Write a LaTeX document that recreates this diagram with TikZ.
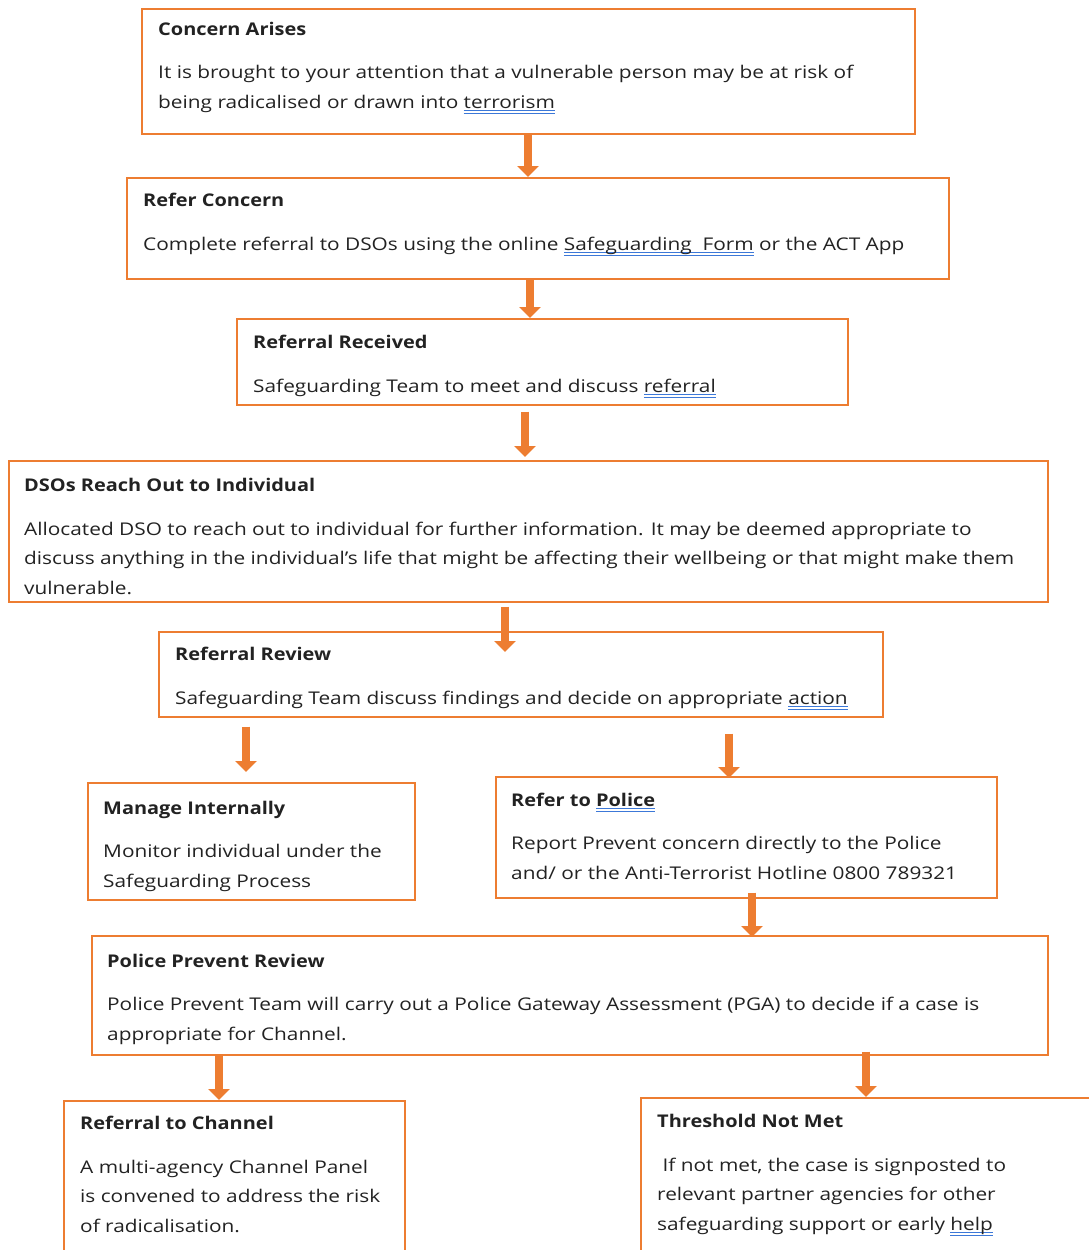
\documentclass[tikz,border=0pt]{standalone}
\usepackage{fontspec}
\setmainfont{Open Sans}[FakeStretch=1.19]
\newfontfamily\titlefont{Open Sans}[FakeStretch=1.14]
\usetikzlibrary{arrows.meta, positioning}
\definecolor{boxorange}{HTML}{ED7D31}
\definecolor{linkblue}{HTML}{3C78D8}
\definecolor{inktext}{HTML}{222222}
% double blue underline, as in the source document
\newsavebox{\linkbox}
\newcommand{\linkul}[1]{\sbox{\linkbox}{#1}%
  \rlap{\textcolor{linkblue}{\rule[-3pt]{\wd\linkbox}{1pt}}}%
  \rlap{\textcolor{linkblue}{\rule[-5.5pt]{\wd\linkbox}{1pt}}}%
  \usebox{\linkbox}}
\newcommand{\steptitle}[1]{{\titlefont\bfseries #1}}

\begin{document}
\begin{tikzpicture}[
  x=1pt, y=-1pt,
  box/.style={draw=boxorange, line width=1.6pt, anchor=north west, inner sep=0pt},
  txt/.style={anchor=base west, inner sep=0pt, align=left, text=inktext,
    font=\fontsize{17.5}{29.5}\selectfont},
  flow/.style={draw=boxorange, line width=8pt,
    -{Triangle[width=21pt, length=11pt]}},
]
  \useasboundingbox (0,0) rectangle (1088,1250);

  % Boxes
  \node[box, minimum width=773pt, minimum height=125pt] (concern) at (141,8) {};
  \node[box, minimum width=822pt, minimum height=101pt] (refer) at (126,177) {};
  \node[box, minimum width=611pt, minimum height=86pt] (received) at (236,318) {};
  \node[box, minimum width=1039pt, minimum height=141pt] (reach) at (8,460) {};
  \node[box, minimum width=724pt, minimum height=85pt] (review) at (158,631) {};
  \node[box, minimum width=327pt, minimum height=117pt] (manage) at (87,782) {};
  \node[box, minimum width=501pt, minimum height=121pt] (police) at (495,776) {};
  \node[box, minimum width=956pt, minimum height=119pt] (prevent) at (91,935) {};
  \node[box, minimum width=341pt, minimum height=170pt] (channel) at (63,1100) {};
  \node[box, minimum width=470pt, minimum height=170pt] (notmet) at (640,1097) {};

  % Texts (placed at the baseline of their last line)
  \node[txt] (concern-t) at (158,108) {\steptitle{Concern Arises}\\[14pt]
    It is brought to your attention that a vulnerable person may be at risk of\\
    being radicalised or drawn into \linkul{terrorism}};
  \node[txt] (refer-t) at (143,250) {\steptitle{Refer Concern}\\[14pt]
    Complete referral to DSOs using the online \linkul{Safeguarding\ \ Form} or the ACT App};
  \node[txt] (received-t) at (253,392) {\steptitle{Referral Received}\\[14pt]
    Safeguarding Team to meet and discuss \linkul{referral}};
  \node[txt] (reach-t) at (24,594) {\steptitle{DSOs Reach Out to Individual}\\[14pt]
    Allocated DSO to reach out to individual for further information. It may be deemed appropriate to\\
    discuss anything in the individual’s life that might be affecting their wellbeing or that might make them\\
    vulnerable.};
  \node[txt] (review-t) at (175,704) {\steptitle{Referral Review}\\[14pt]
    Safeguarding Team discuss findings and decide on appropriate \linkul{action}};
  \node[txt] (manage-t) at (103,887) {\steptitle{Manage Internally}\\[14pt]
    Monitor individual under the\\
    Safeguarding Process};
  \node[txt] (police-t) at (511,879) {\steptitle{Refer to \linkul{Police}}\\[14pt]
    Report Prevent concern directly to the Police\\
    and/ or the Anti-Terrorist Hotline 0800 789321};
  \node[txt] (prevent-t) at (107,1040) {\steptitle{Police Prevent Review}\\[14pt]
    Police Prevent Team will carry out a Police Gateway Assessment (PGA) to decide if a case is\\
    appropriate for Channel.};
  \node[txt] (channel-t) at (80,1232) {\steptitle{Referral to Channel}\\[14pt]
    A multi-agency Channel Panel\\
    is convened to address the risk\\
    of radicalisation.};
  \node[txt] (notmet-t) at (657,1230) {\steptitle{Threshold Not Met}\\[14pt]
    \ If not met, the case is signposted to\\
    relevant partner agencies for other\\
    safeguarding support or early \linkul{help}};

  % Arrows
  \draw[flow] (concern.south -| 528,0) -- (refer.north -| 528,0);
  \draw[flow] (refer.south -| 530,0) -- (received.north -| 530,0);
  \draw[flow] ([yshift=-6pt]received.south -| 525,0) -- ([yshift=3pt]reach.north -| 525,0);
  \draw[flow] ([yshift=-4pt]reach.south -| 505,0) -- ([yshift=-21pt]review.north -| 505,0);
  \draw[flow] ([yshift=-9pt]review.south -| 246,0) -- ([yshift=10pt]manage.north -| 246,0);
  \draw[flow] ([yshift=-16pt]review.south -| 729,0) -- ([yshift=-2pt]police.north -| 729,0);
  \draw[flow] ([yshift=6pt]police.south -| 752,0) -- ([yshift=-2pt]prevent.north -| 752,0);
  \draw[flow] (prevent.south -| 219,0) -- (channel.north -| 219,0);
  \draw[flow] ([yshift=4pt]prevent.south -| 866,0) -- (notmet.north -| 866,0);
\end{tikzpicture}
\end{document}
